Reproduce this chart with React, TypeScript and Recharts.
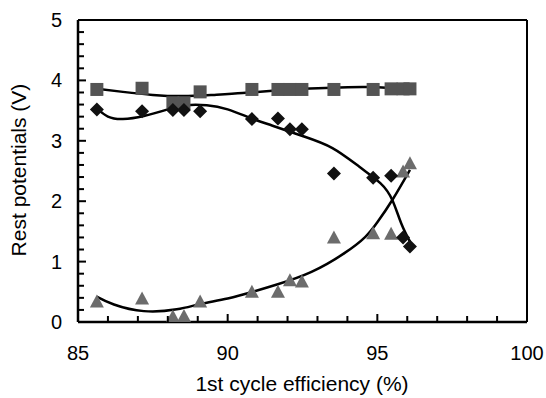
import { ComposedChart, Line, ReferenceLine, Scatter, XAxis, YAxis } from "recharts";

// 1st cycle efficiency (%) of each sample
const efficiency = [85.63, 87.14, 88.17, 88.54, 89.08, 90.81, 91.68, 92.08, 92.48, 93.55, 94.86, 95.46, 95.86, 96.09];
// rest potentials (V)
const squareVals = [3.85, 3.87, 3.63, 3.63, 3.81, 3.85, 3.85, 3.85, 3.85, 3.85, 3.85, 3.86, 3.86, 3.86];
const diamondVals = [3.52, 3.49, 3.51, 3.51, 3.49, 3.36, 3.37, 3.19, 3.19, 2.46, 2.39, 2.42, 1.4, 1.25];
const triangleVals = [0.34, 0.39, 0.09, 0.1, 0.34, 0.5, 0.5, 0.69, 0.67, 1.4, 1.47, 1.46, 2.49, 2.63];

// trend lines
const squareFitX = [85.63, 86.5, 87.5, 88.5, 89.5, 90.5, 91.5, 92.5, 93.5, 94.5, 95.3, 96.09];
const squareFitY = [3.86, 3.81, 3.76, 3.74, 3.76, 3.79, 3.83, 3.86, 3.88, 3.89, 3.88, 3.83];
const diamondFitX = [85.62, 86.0, 86.5, 87.2, 88.0, 88.6, 89.3, 90.0, 90.8, 91.5, 92.5, 93.5, 94.4, 95.1, 95.5, 95.8, 96.09];
const diamondFitY = [3.54, 3.4, 3.36, 3.41, 3.52, 3.59, 3.59, 3.52, 3.37, 3.25, 3.08, 2.88, 2.57, 2.3, 2.02, 1.63, 1.33];
const triangleFitX = [85.62, 86.2, 87.2, 88.3, 89.1, 90.0, 90.9, 91.7, 92.8, 93.9, 94.6, 95.0, 95.5, 96.09];
const triangleFitY = [0.42, 0.29, 0.18, 0.21, 0.3, 0.39, 0.51, 0.63, 0.83, 1.14, 1.41, 1.65, 2.02, 2.52];

const xTicks = [85, 86, 87, 88, 89, 90, 91, 92, 93, 94, 95, 96, 97, 98, 99, 100];
const xLabels = [85, 90, 95, 100];
const yTicks = [0, 0.2, 0.4, 0.6, 0.8, 1, 1.2, 1.4, 1.6, 1.8, 2, 2.2, 2.4, 2.6, 2.8, 3, 3.2, 3.4, 3.6, 3.8, 4, 4.2, 4.4, 4.6, 4.8, 5];
const yLabels = [0, 1, 2, 3, 4, 5];

const zip = (xs: number[], ys: number[]) => xs.map((x, i) => ({ x, y: ys[i] }));

const FONT = "'Liberation Sans', Arial, sans-serif";

const XTick = (props: any) => {
  const { x, y, payload } = props;
  const major = xLabels.includes(payload.value);
  return (
    <g>
      <line x1={x} y1={y} x2={x} y2={y - (major ? 8 : 6)} stroke="#000" strokeWidth={2} />
      {major && (
        <text x={x} y={y + 38} textAnchor="middle" fontSize={20} fontFamily={FONT} fill="#000">
          {payload.value}
        </text>
      )}
    </g>
  );
};

const YTick = (props: any) => {
  const { x, y, payload } = props;
  const major = yLabels.some((v) => Math.abs(v - payload.value) < 1e-6);
  return (
    <g>
      <line x1={x} y1={y} x2={x + (major ? 8 : 6)} y2={y} stroke="#000" strokeWidth={2} />
      {major && (
        <text x={x - 16} y={y + 7} textAnchor="end" fontSize={20} fontFamily={FONT} fill="#000">
          {Math.round(payload.value)}
        </text>
      )}
    </g>
  );
};

const Square = (p: any) => <rect x={p.cx - 6.5} y={p.cy - 6.5} width={13} height={13} fill="#545454" />;
const Diamond = (p: any) => (
  <polygon
    points={`${p.cx},${p.cy - 7} ${p.cx + 7},${p.cy} ${p.cx},${p.cy + 7} ${p.cx - 7},${p.cy}`}
    fill="#111"
  />
);
const Triangle = (p: any) => (
  <polygon
    points={`${p.cx},${p.cy - 7} ${p.cx + 7},${p.cy + 6} ${p.cx - 7},${p.cy + 6}`}
    fill="#6c6c6c"
  />
);

export default function App() {
  return (
    <div style={{ position: "fixed", left: 0, top: 0, background: "#fff" }}>
      <ComposedChart width={546} height={398} margin={{ top: 20, right: 19, bottom: 0, left: 0 }}>
        <XAxis
          type="number"
          dataKey="x"
          domain={[85, 100]}
          ticks={xTicks}
          interval={0}
          tickSize={0}
          tickMargin={0}
          tick={XTick}
          height={76}
          stroke="#000"
          strokeWidth={2.5}
          allowDataOverflow
          label={{
            content: () => (
              <text x={302} y={391} textAnchor="middle" fontSize={21} fontFamily={FONT} fill="#000">
                1st cycle efficiency (%)
              </text>
            ),
          }}
        />
        <YAxis
          type="number"
          domain={[0, 5]}
          ticks={yTicks}
          interval={0}
          tickSize={0}
          tickMargin={0}
          tick={YTick}
          width={78}
          stroke="#000"
          strokeWidth={2.5}
          allowDataOverflow
          label={{
            content: () => (
              <text
                x={26}
                y={170}
                textAnchor="middle"
                fontSize={21}
                fontFamily={FONT}
                fill="#000"
                transform="rotate(-90 26 170)"
              >
                Rest potentials (V)
              </text>
            ),
          }}
        />
        <ReferenceLine y={5} stroke="#000" strokeWidth={2} />
        <ReferenceLine x={100} stroke="#000" strokeWidth={2} />
        <Scatter data={zip(efficiency, squareVals)} dataKey="y" shape={Square} isAnimationActive={false} />
        <Scatter data={zip(efficiency, triangleVals)} dataKey="y" shape={Triangle} isAnimationActive={false} />
        <Scatter data={zip(efficiency, diamondVals)} dataKey="y" shape={Diamond} isAnimationActive={false} />
        <Line data={zip(squareFitX, squareFitY)} dataKey="y" type="natural" stroke="#000" strokeWidth={2.5} dot={false} isAnimationActive={false} />
        <Line data={zip(diamondFitX, diamondFitY)} dataKey="y" type="natural" stroke="#000" strokeWidth={2.5} dot={false} isAnimationActive={false} />
        <Line data={zip(triangleFitX, triangleFitY)} dataKey="y" type="natural" stroke="#000" strokeWidth={2.5} dot={false} isAnimationActive={false} />
      </ComposedChart>
    </div>
  );
}
